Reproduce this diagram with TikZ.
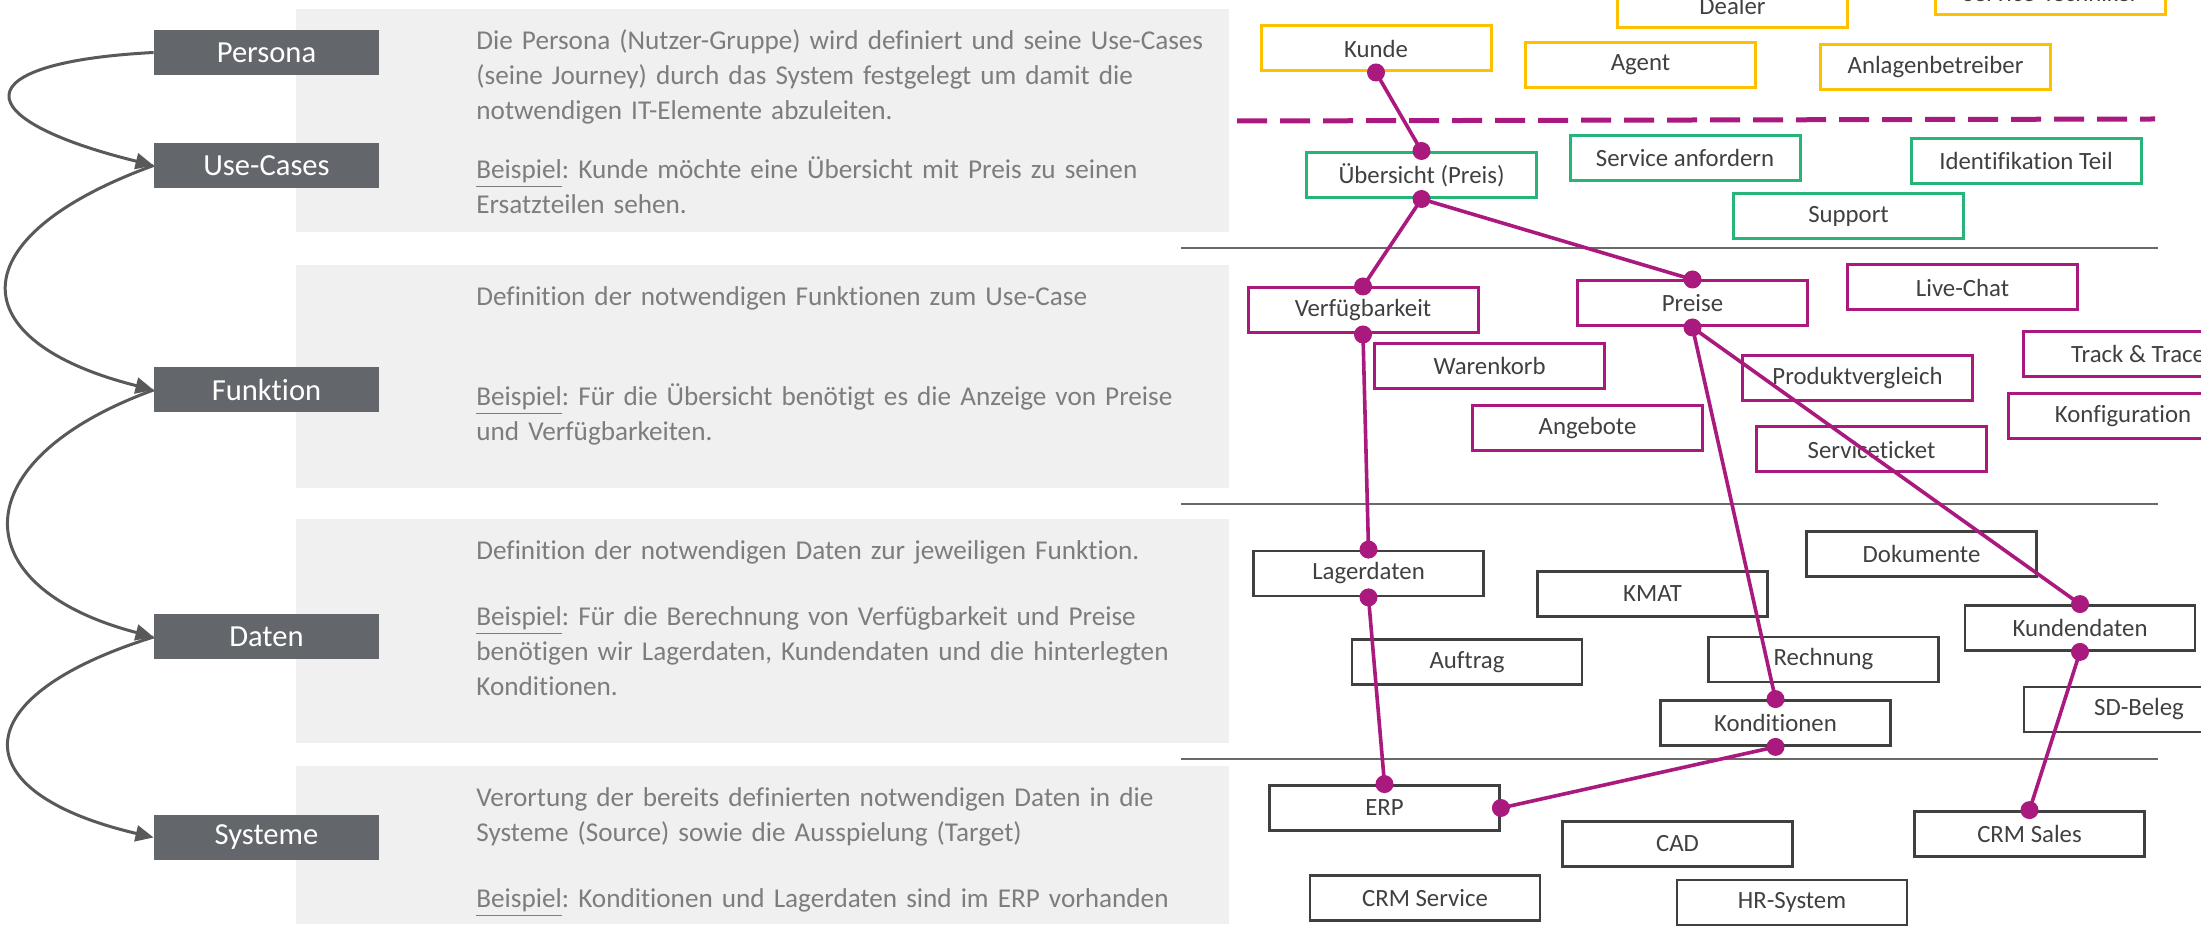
\documentclass[tikz,border=0pt]{standalone}
\usepackage{fontspec}
\setmainfont{Carlito}[Ligatures=NoCommon]
\usetikzlibrary{arrows.meta}
\frenchspacing

\definecolor{persgelb}{RGB}{255,192,0}
\definecolor{ucgruen}{RGB}{38,180,120}
\definecolor{fktmag}{RGB}{170,25,125}
\definecolor{stufegrau}{RGB}{99,102,106}
\definecolor{panelgrau}{RGB}{240,240,240}
\definecolor{textgrau}{RGB}{125,125,125}
\definecolor{boxtext}{RGB}{64,64,64}
\definecolor{liniegrau}{RGB}{105,105,105}
\definecolor{pfeilgrau}{RGB}{89,89,89}

\tikzset{
  box/.style={draw, line width=1.5pt, fill=white, minimum width=115pt,
    minimum height=22.5pt, inner sep=0pt, text=boxtext,
    font=\fontsize{12.4}{15}\selectfont},
  stufe/.style={fill=stufegrau, text=white, minimum width=112.5pt,
    minimum height=22.5pt, inner sep=0pt, font=\fontsize{15.3}{18}\selectfont},
  desc/.style={anchor=base west, text width=400pt, align=left, inner sep=0pt,
    text=textgrau, font=\fontsize{13.6}{17.5}\selectfont},
  link/.style={draw=fktmag, line width=1.8pt},
  flow/.style={draw=pfeilgrau, line width=1.5pt, -{Triangle[length=9pt,width=8pt]}},
  trenner/.style={draw=liniegrau, line width=1.2pt}
}

\begin{document}
\begin{tikzpicture}[x=0.5pt,y=-0.5pt]
\useasboundingbox (0,0) rectangle (2201,929);
\clip (0,0) rectangle (2201,929);

% panels
\fill[panelgrau] (296,9) rectangle (1229,232);
\fill[panelgrau] (296,265) rectangle (1229,488);
\fill[panelgrau] (296,519) rectangle (1229,743);
\fill[panelgrau] (296,766) rectangle (1229,924);

\node[desc] (txtpersona) at (476,50) {Die Persona (Nutzer-Gruppe) wird definiert und seine Use-Cases\\
  (seine Journey) durch das System festgelegt um damit die\\
  notwendigen IT-Elemente abzuleiten.\\[12pt]
  \underline{Beispiel}: Kunde möchte eine Übersicht mit Preis zu seinen\\
  Ersatzteilen sehen.};
\node[desc] (txtfunktion) at (476,306) {Definition der notwendigen Funktionen zum Use-Case\\[32.5pt]
  \underline{Beispiel}: Für die Übersicht benötigt es die Anzeige von Preise\\
  und Verfügbarkeiten.};
\node[desc] (txtdaten) at (476,560) {Definition der notwendigen Daten zur jeweiligen Funktion.\\[15.5pt]
  \underline{Beispiel}: Für die Berechnung von Verfügbarkeit und Preise\\
  benötigen wir Lagerdaten, Kundendaten und die hinterlegten\\
  Konditionen.};
\node[desc] (txtsysteme) at (476,806) {Verortung der bereits definierten notwendigen Daten in die\\
  Systeme (Source) sowie die Ausspielung (Target)\\[16pt]
  \underline{Beispiel}: Konditionen und Lagerdaten sind im ERP vorhanden};

% steps
\node[stufe] (persona) at (266.5,52.5) {Persona};
\node[stufe] (usecases) at (266.5,165.5) {Use-Cases};
\node[stufe] (funktion) at (266.5,390) {Funktion};
\node[stufe] (daten) at (266.5,637) {Daten};
\node[stufe] (systeme) at (266.5,837.5) {Systeme};

\draw[flow] (persona.west) .. controls +(-190,10) and +(-190,-47) .. (usecases.west);
\draw[flow] (usecases.west) .. controls +(-195,71) and +(-195,-49) .. (funktion.west);
\draw[flow] (funktion.west) .. controls +(-192,70) and +(-192,-50) .. (daten.west);
\draw[flow] (daten.west) .. controls +(-192,60) and +(-192,-45) .. (systeme.west);

% separators
\draw[trenner] (1181,248) -- (2158,248);
\draw[trenner] (1181,504) -- (2158,504);
\draw[trenner] (1181,759) -- (2158,759);
\draw[fktmag, line width=2.5pt, dash pattern=on 15pt off 6.5pt] (1237,121) -- (2155,119);

% personas
\begin{scope}[every node/.style={box, draw=persgelb}]
  \node (servtech) at (2050.5,-7.5) {Service-Techniker};
  \node (dealer) at (1732.5,5.5) {Dealer};
  \node (kunde) at (1376,48.5) {Kunde};
  \node (agent) at (1640.5,65) {Agent};
  \node (anlagen) at (1935.5,67) {Anlagenbetreiber};
\end{scope}

% use-cases
\begin{scope}[every node/.style={box, draw=ucgruen}]
  \node (uebersicht) at (1421.5,175) {Übersicht (Preis)};
  \node (serviceanf) at (1685,158) {Service anfordern};
  \node (identteil) at (2026,161) {Identifikation Teil};
  \node (support) at (1848.5,216) {Support};
\end{scope}

% funktionen
\begin{scope}[every node/.style={box, draw=fktmag}]
  \node (verfueg) at (1363,310.5) {Verfügbarkeit};
  \node (preise) at (1692.5,303.5) {Preise};
  \node (livechat) at (1962.5,287.5) {Live-Chat};
  \node (tracktrace) at (2138,354) {Track \& Trace};
  \node (warenkorb) at (1489.5,366) {Warenkorb};
  \node (produktvgl) at (1857.5,378.5) {Produktvergleich};
  \node (konfig) at (2123,416.5) {Konfiguration};
  \node (angebote) at (1587.5,428.5) {Angebote};
  \node (serviceticket) at (1871.5,449.5) {Serviceticket};
\end{scope}

% daten + systeme
\begin{scope}[every node/.style={box, draw=boxtext, line width=1.4pt}]
  \node (lagerdaten) at (1368.5,573.5) {Lagerdaten};
  \node (kmat) at (1652.5,594) {KMAT};
  \node (dokumente) at (1921.5,554) {Dokumente};
  \node (kundendaten) at (2080,628) {Kundendaten};
  \node (auftrag) at (1467,662) {Auftrag};
  \node (rechnung) at (1823.5,659.5) {Rechnung};
  \node (sdbeleg) at (2139,709.5) {SD-Beleg};
  \node (konditionen) at (1775.5,723) {Konditionen};
  \node (erp) at (1384.5,808) {ERP};
  \node (cad) at (1677.5,844) {CAD};
  \node (crmsales) at (2029.5,834) {CRM Sales};
  \node (crmservice) at (1425,898) {CRM Service};
  \node (hrsystem) at (1792,902.5) {HR-System};
\end{scope}

% journey
\draw[link] (kunde.south) -- (uebersicht.north);
\draw[link] (uebersicht.south) -- (verfueg.north);
\draw[link] (uebersicht.south) -- (preise.north);
\draw[link] (verfueg.south) -- (lagerdaten.north);
\draw[link] (preise.south) -- (konditionen.north);
\draw[link] (preise.south) -- (kundendaten.north);
\draw[link] (lagerdaten.south) -- (erp.north);
\draw[link] (konditionen.south) -- (erp.east);
\draw[link] (kundendaten.south) -- (crmsales.north);

\foreach \p in {kunde.south, uebersicht.north, uebersicht.south, verfueg.north,
  verfueg.south, preise.north, preise.south, lagerdaten.north, lagerdaten.south,
  konditionen.north, konditionen.south, kundendaten.north, kundendaten.south,
  erp.north, erp.east, crmsales.north}
  \fill[fktmag] (\p) circle (4.5pt);
\end{tikzpicture}
\end{document}
